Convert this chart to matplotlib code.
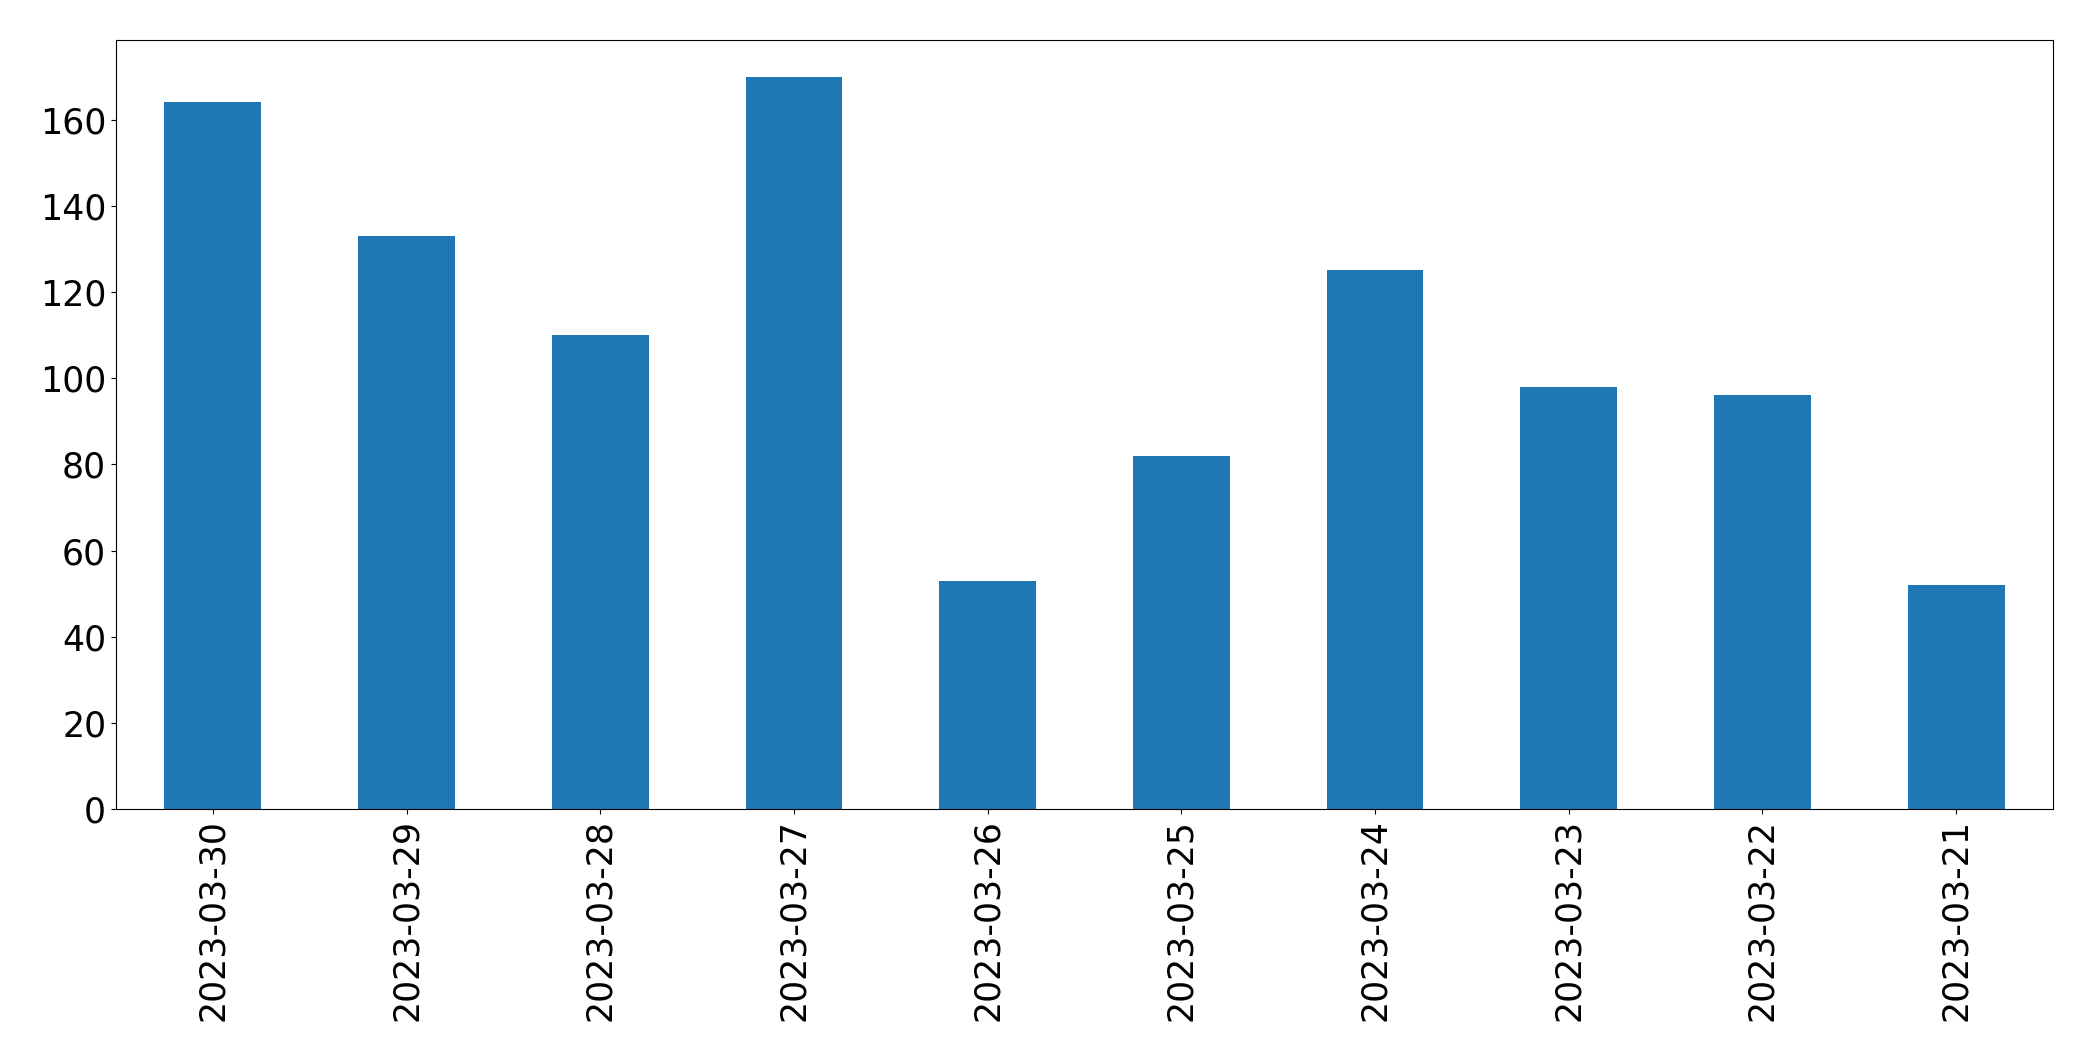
import matplotlib
matplotlib.use("Agg")
import matplotlib.pyplot as plt
import pandas as pd


dates = [
    "2023-03-30", "2023-03-29", "2023-03-28", "2023-03-27", "2023-03-26",
    "2023-03-25", "2023-03-24", "2023-03-23", "2023-03-22", "2023-03-21",
]
counts = [164, 133, 110, 170, 53, 82, 125, 98, 96, 52]


def main() -> None:
    series = pd.Series(counts, index=dates)

    fig = plt.figure(figsize=(20.93, 10.61), dpi=100)
    ax = fig.add_axes([0.0554, 0.2375, 0.9255, 0.7248])
    series.plot(kind="bar", ax=ax, color="#1f77b4", width=0.5)

    # default margins give top = 1.05 * max, same as the reference
    ax.tick_params(axis="both", labelsize=25)
    plt.setp(ax.get_xticklabels(), rotation=90)

    fig.savefig("out.png", dpi=100)
    plt.close(fig)


if __name__ == "__main__":
    main()
